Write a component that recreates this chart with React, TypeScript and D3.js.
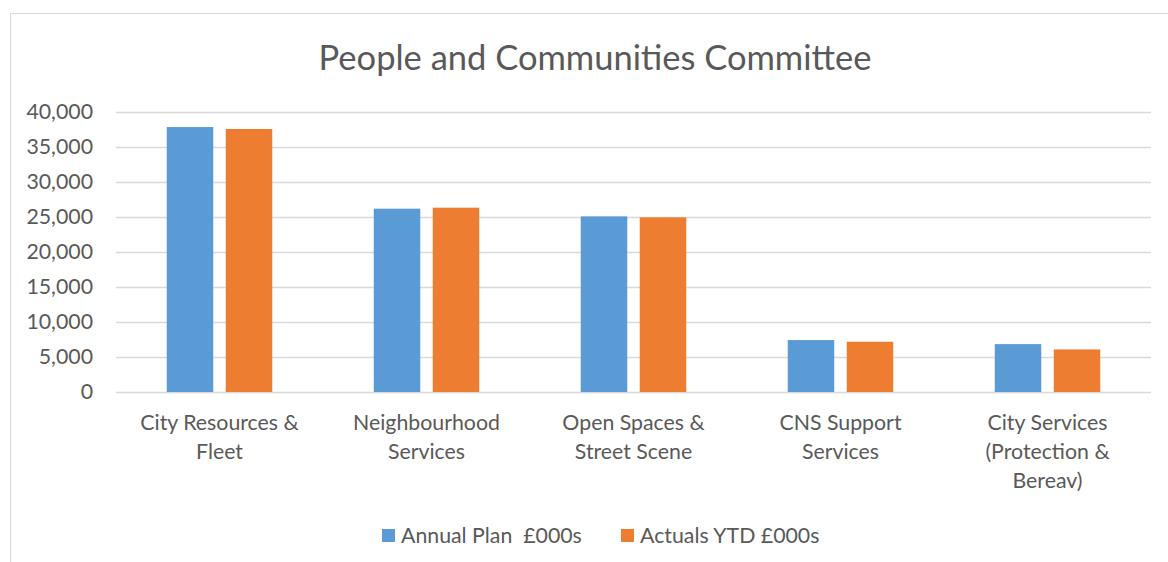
import React from "react";
import * as d3 from "d3";

const categories: string[][] = [
  ["City Resources &", "Fleet"],
  ["Neighbourhood", "Services"],
  ["Open Spaces &", "Street Scene"],
  ["CNS Support", "Services"],
  ["City Services", "(Protection &", "Bereav)"],
];
const annualPlan = [37850, 26190, 25090, 7420, 6840];
const actualsYTD = [37570, 26330, 24950, 7180, 6080];
const yTicks = [0, 5000, 10000, 15000, 20000, 25000, 30000, 35000, 40000];
const seriesNames = ["Annual Plan  £000s", "Actuals YTD £000s"];
const colors = ["#5B9BD5", "#ED7D31"];

const W = 1168;
const H = 562;
const FONT = "Lato, 'Open Sans', sans-serif";
const FS = 21.3;

export default function App() {
  const left = 116;
  const right = 1151;
  const top = 112;
  const bottom = 392;
  const x = d3
    .scaleBand<number>()
    .domain(categories.map((_, i) => i))
    .range([left, right]);
  const y = d3.scaleLinear().domain([0, 40000]).range([bottom, top]);
  const barW = 46.5;
  const innerGap = 12.5;
  const fmt = d3.format(",");

  return (
    <svg
      width={W}
      height={H}
      style={{ position: "absolute", left: 0, top: 0, background: "#fff" }}
    >
      <rect x={10.5} y={13.5} width={1200} height={600} fill="#fff" stroke="#D9D9D9" strokeWidth={1} />
      <text
        x={595}
        y={70}
        textAnchor="middle"
        fontFamily={FONT}
        fontSize={34.5}
        fill="#595959"
      >
        People and Communities Committee
      </text>
      {yTicks.map((t) => (
        <g key={t}>
          <line
            x1={left}
            x2={right}
            y1={Math.round(y(t)) + 0.5}
            y2={Math.round(y(t)) + 0.5}
            stroke="#D9D9D9"
            strokeWidth={1.3}
          />
          <text
            x={93}
            y={y(t) + 7}
            textAnchor="end"
            fontFamily={FONT}
            fontSize={FS}
            fill="#595959"
          >
            {fmt(t)}
          </text>
        </g>
      ))}
      {categories.map((c, i) => {
        const cx = (x(i) as number) + x.bandwidth() / 2;
        const vals = [annualPlan[i], actualsYTD[i]];
        return (
          <g key={i}>
            {vals.map((v, s) => {
              const bx = cx - innerGap / 2 - barW + s * (barW + innerGap);
              return (
                <rect
                  key={s}
                  x={bx}
                  y={y(v)}
                  width={barW}
                  height={y(0) - y(v)}
                  fill={colors[s]}
                />
              );
            })}
            {c.map((line, k) => (
              <text
                key={k}
                x={cx}
                y={430 + k * 29}
                textAnchor="middle"
                fontFamily={FONT}
                fontSize={FS}
                fill="#595959"
              >
                {line}
              </text>
            ))}
          </g>
        );
      })}
      {seriesNames.map((n, s) => {
        const lx = s === 0 ? 382 : 621;
        return (
          <g key={n}>
            <rect x={lx} y={529} width={13} height={13} fill={colors[s]} />
            <text
              x={lx + 19}
              y={542.5}
              fontFamily={FONT}
              fontSize={FS}
              fill="#595959"
              style={{ whiteSpace: "pre" }}
            >
              {n}
            </text>
          </g>
        );
      })}
    </svg>
  );
}
